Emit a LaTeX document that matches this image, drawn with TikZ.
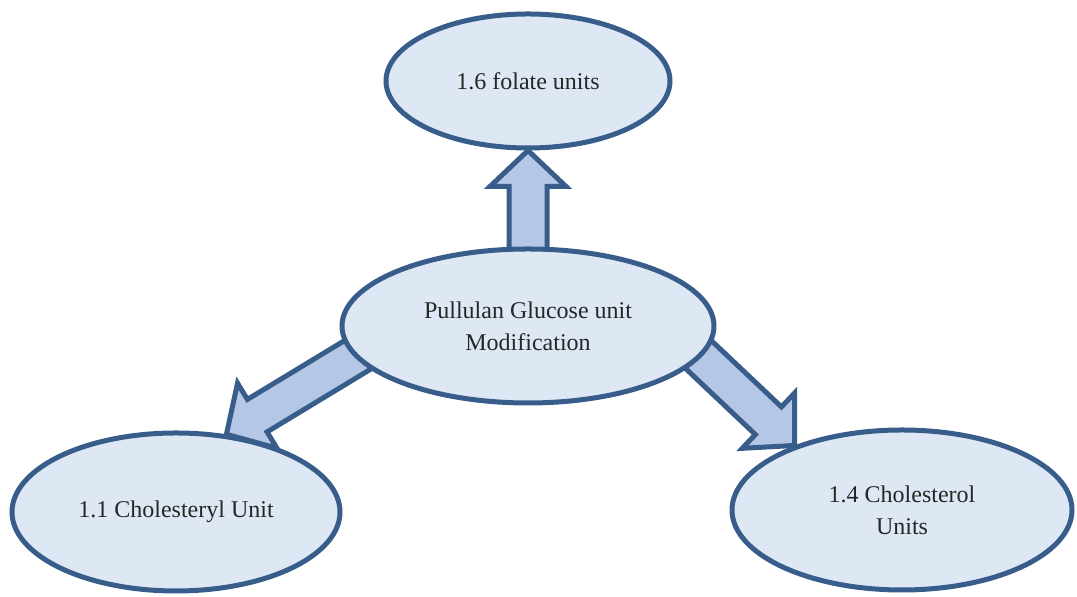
\documentclass[tikz,border=0pt]{standalone}
\usepackage{fontspec}
\setmainfont{Liberation Serif}
\usepackage{tikz}
\usetikzlibrary{shapes.geometric,backgrounds}
\definecolor{edge}{HTML}{385D8A}
\definecolor{pale}{HTML}{DEE8F5}
\definecolor{shaft}{HTML}{B4C7E7}
\tikzset{unit/.style={ellipse,draw=edge,fill=pale,line width=2.5pt,align=center,inner sep=0pt,font=\fontsize{12}{16}\selectfont,text=black!85},barrow/.style={draw=edge,fill=shaft,line width=2.5pt,line join=miter}}
% block arrow: tip, direction, length
\newcommand{\blockarrow}[3]{\draw[barrow,shift={(#1)},rotate=#2] (0,0) -- (-36,38) -- (-36,19) -- (-#3,19) -- (-#3,-19) -- (-36,-19) -- (-36,-38) -- cycle;}

\begin{document}
\begin{tikzpicture}[x=0.5pt,y=0.5pt]
\useasboundingbox (0,0) rectangle (1077,597);
\node[unit,minimum width=142pt,minimum height=67pt] (folate) at (528,516) {1.6 folate units};
\node[unit,minimum width=186pt,minimum height=77pt] (pull) at (528,271) {Pullulan Glucose unit\\Modification};
\node[unit,minimum width=164pt,minimum height=79pt] (chl) at (176,85) {1.1 Cholesteryl Unit};
\node[unit,minimum width=170pt,minimum height=80pt] (chol) at (902,87) {1.4 Cholesterol\\Units};
\begin{scope}[on background layer]
\blockarrow{folate.south}{90}{120}
\blockarrow{chl.57}{211.2}{165}
\blockarrow{chol.149}{-43.4}{165}
\end{scope}
\end{tikzpicture}
\end{document}
